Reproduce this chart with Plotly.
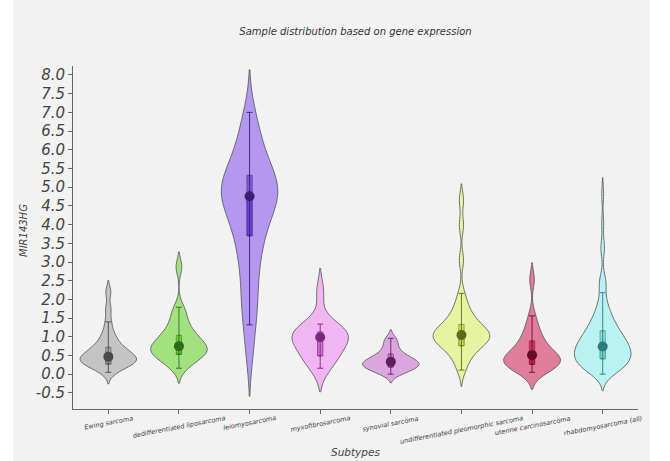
import plotly.graph_objects as go

# ---------------- data ----------------
subtypes = ["Ewing sarcoma", "dedifferentiated liposarcoma", "leiomyosarcoma",
            "myxofibrosarcoma", "synovial sarcoma",
            "undifferentiated pleomorphic sarcoma", "uterine carcinosarcoma",
            "rhabdomyosarcoma (all)"]

y_tick_vals = [-0.5, 0.0, 0.5, 1.0, 1.5, 2.0, 2.5, 3.0, 3.5, 4.0, 4.5, 5.0,
               5.5, 6.0, 6.5, 7.0, 7.5, 8.0]
y_tick_text = ["-0.5", "0.0", "0.5", "1.0", "1.5", "2.0", "2.5", "3.0", "3.5",
               "4.0", "4.5", "5.0", "5.5", "6.0", "6.5", "7.0", "7.5", "8.0"]

ewing = [0.05, 0.14, 0.2, 0.25, 0.28, 0.31, 0.34, 0.36, 0.38, 0.41, 0.44, 0.47,
         0.5, 0.54, 0.58, 0.63, 0.68, 0.72, 0.8, 0.9, 1.0, 1.15, 1.4, 1.75, 2.2]
dediff = [0.16, 0.28, 0.38, 0.45, 0.5, 0.55, 0.6, 0.63, 0.67, 0.71, 0.75, 0.8,
          0.86, 0.93, 1.0, 1.06, 1.15, 1.28, 1.42, 1.6, 1.79, 2.87]
leio = [0.55, 1.32, 1.7, 2.1, 2.5, 2.9, 3.2, 3.5, 3.7, 3.9, 4.1, 4.3, 4.45, 4.6,
        4.7, 4.75, 4.8, 4.9, 5.0, 5.1, 5.2, 5.3, 5.45, 5.6, 5.8, 6.0, 6.3, 6.6, 7.0]
myxo = [0.16, 0.32, 0.45, 0.55, 0.7, 0.85, 0.95, 1.0, 1.05, 1.1, 1.15, 1.22,
        1.34, 2.2]
synovial = [0.0, 0.07, 0.12, 0.16, 0.2, 0.23, 0.26, 0.29, 0.32, 0.35, 0.39,
            0.44, 0.5, 0.56, 0.68, 0.82, 0.96]
undiff = [0.11, 0.3, 0.45, 0.56, 0.66, 0.72, 0.77, 0.82, 0.86, 0.9, 0.94, 0.97,
          1.0, 1.03, 1.06, 1.09, 1.12, 1.16, 1.2, 1.25, 1.3, 1.36, 1.43, 1.52,
          1.63, 1.75, 1.9, 2.16, 3.05, 3.98, 4.65]
uterine = [0.05, 0.1, 0.15, 0.2, 0.25, 0.28, 0.31, 0.34, 0.37, 0.4, 0.44, 0.48,
           0.51, 0.56, 0.62, 0.7, 0.8, 0.89, 1.0, 1.12, 1.3, 1.56, 2.53]
rhabdo = [0.0, 0.03, 0.05, 0.08, 0.1, 0.13, 0.15, 0.18,
          0.2, 0.22, 0.24, 0.25, 0.27, 0.29, 0.31, 0.33, 0.34, 0.36, 0.38,
          0.4, 0.42, 0.43, 0.45, 0.47, 0.48, 0.5, 0.52, 0.53, 0.55, 0.57, 0.58,
          0.6, 0.62, 0.64, 0.65, 0.67, 0.69,
          0.7, 0.72, 0.74, 0.76, 0.78, 0.8, 0.82, 0.84, 0.86, 0.88, 0.9, 0.92,
          0.94, 0.96, 0.98,
          1.0, 1.03, 1.06, 1.09, 1.12, 1.15, 1.18, 1.21, 1.24, 1.27,
          1.3, 1.34, 1.38, 1.43, 1.48, 1.53, 1.58,
          1.64, 1.71, 1.79, 1.87, 2.0, 2.18,
          2.42, 2.48, 2.54, 3.3, 3.45, 4.05, 4.82]
samples = [ewing, dediff, leio, myxo, synovial, undiff, uterine, rhabdo]

# box statistics
q1 = [0.27, 0.53, 3.70, 0.49, 0.19, 0.76, 0.26, 0.41]
median = [0.47, 0.75, 4.76, 0.99, 0.33, 1.05, 0.51, 0.74]
q3 = [0.72, 1.04, 5.32, 1.13, 0.54, 1.33, 0.89, 1.16]
whisker_lo = [0.05, 0.16, 1.32, 0.16, 0.00, 0.11, 0.05, 0.00]
whisker_hi = [1.40, 1.79, 7.00, 1.34, 0.96, 2.16, 1.56, 2.18]
bandwidths = [0.155, 0.2, 0.57, 0.315, 0.115, 0.22, 0.225, 0.22]

# ---------------- styles ----------------
fill_colors = ["#c4c4c4", "#a2e27e", "#b497ef", "#f1b6f1", "#dba6dc",
               "#e6f4a2", "#e07c9c", "#b8f2f2"]
box_colors = ["#9a9a9a", "#5fcc2a", "#6a3ddc", "#d66fd6", "#c070c0",
              "#c9dc40", "#d0184f", "#6fd8d8"]
dot_colors = ["#4a4a4a", "#2f6b17", "#3c1f72", "#7a2a7a", "#5e1f5e",
              "#5e6a1a", "#6b0a2a", "#2e7a7a"]

W, H = 670, 461
ML, MR, MT, MB = 73, 32, 66, 52
PW, PH = W - ML - MR, H - MT - MB


def px_x(px):
    return (px - ML) / PW


def px_y(py):
    return (H - MB - py) / PH


fig = go.Figure()

for i, cat in enumerate(subtypes):
    fig.add_trace(go.Violin(
        x=[cat] * len(samples[i]), y=samples[i],
        bandwidth=bandwidths[i], spanmode="soft",
        fillcolor=fill_colors[i], opacity=1,
        line=dict(color="rgba(85,85,85,0.9)", width=0.9),
        points=False, box_visible=False, meanline_visible=False,
        width=0.8, scalemode="width", showlegend=False, hoverinfo="skip",
    ))

for i, cat in enumerate(subtypes):
    # lower half of box (darker)
    fig.add_trace(go.Box(
        x=[cat], q1=[q1[i]], median=[median[i]], q3=[median[i]],
        lowerfence=[q1[i]], upperfence=[median[i]],
        width=0.075, fillcolor=box_colors[i], opacity=0.95,
        line=dict(color=dot_colors[i], width=0.8),
        showlegend=False, hoverinfo="skip", boxpoints=False,
    ))
    # upper half of box (lighter)
    fig.add_trace(go.Box(
        x=[cat], q1=[median[i]], median=[median[i]], q3=[q3[i]],
        lowerfence=[median[i]], upperfence=[q3[i]],
        width=0.075, fillcolor=box_colors[i], opacity=0.7,
        line=dict(color=dot_colors[i], width=0.8),
        showlegend=False, hoverinfo="skip", boxpoints=False,
    ))

for i, cat in enumerate(subtypes):
    fig.add_trace(go.Scatter(
        x=[cat], y=[median[i]], mode="markers",
        marker=dict(size=10, color=dot_colors[i]),
        error_y=dict(type="data", symmetric=False,
                     array=[whisker_hi[i] - median[i]],
                     arrayminus=[median[i] - whisker_lo[i]],
                     color=dot_colors[i], thickness=0.9, width=3),
        showlegend=False, hoverinfo="skip",
    ))

axis_font = dict(family="DejaVu Sans", color="#444444")

annotations = []
for cat in subtypes:
    annotations.append(dict(
        text=cat, x=cat, xref="x", y=px_y(412), yref="paper",
        xanchor="center", yanchor="top", textangle=-11, showarrow=False,
        font=dict(size=6.5, style="italic", family="DejaVu Sans",
                  color="#3a3a3a")))
annotations.append(dict(
    text="Subtypes", x=px_x(355), xref="paper", y=px_y(452), yref="paper",
    xanchor="center", yanchor="middle", showarrow=False,
    font=dict(size=10.5, style="italic", **axis_font)))
annotations.append(dict(
    text="MIR143HG", x=px_x(23), xref="paper", y=px_y(231), yref="paper",
    xanchor="center", yanchor="middle", textangle=-90, showarrow=False,
    font=dict(size=10, style="italic", **axis_font)))

fig.update_layout(
    width=W, height=H,
    margin=dict(l=ML, r=MR, t=MT, b=MB),
    paper_bgcolor="#ffffff", plot_bgcolor="#f2f2f2",
    violinmode="overlay", boxmode="overlay",
    title=dict(text="Sample distribution based on gene expression",
               x=0.5, xanchor="center", xref="paper",
               y=1 - 31 / H, yanchor="middle", yref="container",
               font=dict(family="DejaVu Sans", size=10, color="#333333",
                         style="italic")),
    xaxis=dict(
        type="category", categoryorder="array", categoryarray=subtypes,
        range=[-0.5, 7.5], showline=True, linecolor="#666666", linewidth=1,
        ticks="outside", ticklen=4, tickcolor="#666666",
        showticklabels=False, automargin=False,
        showgrid=False, zeroline=False,
    ),
    yaxis=dict(
        range=[-0.93, 8.24], tickmode="array", tickvals=y_tick_vals,
        ticktext=y_tick_text,
        showline=True, linecolor="#666666", linewidth=1,
        ticks="outside", ticklen=4, tickcolor="#666666",
        tickfont=dict(size=15, style="italic", **axis_font),
        showgrid=False, zeroline=False, automargin=False,
    ),
    annotations=annotations,
    shapes=[
        dict(type="rect", xref="paper", yref="paper", x0=px_x(13),
             x1=px_x(650), y0=px_y(470), y1=px_y(-10), fillcolor="#f2f2f2",
             line=dict(width=0), layer="below"),
    ],
)

fig.write_html("out.html",
               config={"displayModeBar": False},
               post_script="document.body.style.margin='0';")
